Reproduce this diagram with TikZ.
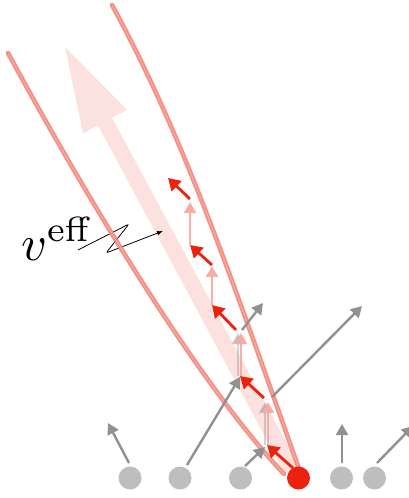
\documentclass[tikz,border=0pt]{standalone}
\usetikzlibrary{arrows.meta}
\definecolor{bigpink}{RGB}{252,226,223}
\definecolor{pencil}{RGB}{243,136,124}
\definecolor{hopred}{RGB}{236,34,14}
\definecolor{hoppink}{RGB}{246,170,160}
\definecolor{dotgray}{RGB}{190,190,190}
\definecolor{arrgray}{RGB}{145,145,145}
\tikzset{
  pencilline/.style={draw=pencil, line width=4.6pt, line cap=round, opacity=0.92},
  pencilgrain/.style={draw=white, line width=0.8pt, opacity=0.4, dash pattern=on 0.6pt off 1.5pt},
  grayarrow/.style={draw=arrgray, line width=2.4pt, -{Triangle[length=11pt,width=12pt]}},
  ghostarrow/.style={draw=arrgray, line width=2.4pt, opacity=0.4, -{Triangle[length=11pt,width=12pt]}},
  redarrow/.style={draw=hopred, line width=2.8pt, -{Triangle[length=12pt,width=14pt]}},
  pinkarrow/.style={draw=hoppink, line width=2.6pt, opacity=0.9, -{Triangle[length=11pt,width=12pt]}},
  dot/.style={circle, minimum size=23pt, inner sep=0pt},
  zig/.style={draw=black, line width=0.8pt, rounded corners=2.5pt, -{Latex[length=6pt,width=4.5pt]}}
}
\begin{document}
\begin{tikzpicture}[x=1pt,y=-1pt]
\useasboundingbox (0,0) rectangle (409,498);
\clip (0,0) rectangle (409,498);
% big effective-velocity arrow
\coordinate (S1) at (284.95,473.8);
\coordinate (B1) at (97.95,125.3);
\coordinate (H1) at (83,133.3);
\coordinate (T) at (65,47);
\coordinate (H2) at (127,109.7);
\coordinate (B2) at (112.05,117.7);
\coordinate (S2) at (299.05,466.2);
\fill[bigpink] (S1) -- (B1) -- (H1) -- (T) -- (H2) -- (B2) -- (S2) -- cycle;
% label and zigzag
\node[anchor=base west, inner sep=0pt, scale=5] (lbl) at (20,260) {$v^{\mathrm{eff}}$};
\coordinate (z0) at (78,250);
\coordinate (z1) at (129,224);
\coordinate (z2) at (106,253);
\coordinate (z3) at (163,231);
\draw[zig] (z0) -- (z1) -- (z2) -- (z3);
% pencil cone lines
\coordinate (L0) at (8,53);
\coordinate (LA) at (90,204);
\coordinate (LB) at (199,384);
\coordinate (L1) at (284,474);
\coordinate (R0) at (112,5);
\coordinate (RA) at (179,128);
\coordinate (RB) at (222,250);
\coordinate (R1) at (299,469);
\draw[pencilline] (L0) .. controls (LA) and (LB) .. (L1);
\draw[pencilline] (R0) .. controls (RA) and (RB) .. (R1);
\draw[pencilgrain, xshift=-1.4pt] (L0) .. controls (LA) and (LB) .. (L1);
\draw[pencilgrain, xshift=1.5pt, dash phase=0.9pt] (L0) .. controls (LA) and (LB) .. (L1);
\draw[pencilgrain, xshift=-1.4pt] (R0) .. controls (RA) and (RB) .. (R1);
\draw[pencilgrain, xshift=1.5pt, dash phase=0.9pt] (R0) .. controls (RA) and (RB) .. (R1);
% gray particle arrows
\coordinate (g1s) at (129,463); \coordinate (g1e) at (108,423);
\coordinate (g2s) at (187,465); \coordinate (g2e) at (240,377);
\coordinate (g3s) at (245,466); \coordinate (g3e) at (265,447);
\coordinate (g4s) at (342,463); \coordinate (g4e) at (342,424);
\coordinate (g5s) at (377,463); \coordinate (g5e) at (413,426);
\coordinate (g6s) at (272,397); \coordinate (g6e) at (362,306);
\coordinate (g7s) at (242,330); \coordinate (g7e) at (263,303);
\draw[grayarrow] (g1s) -- (g1e);
\draw[grayarrow] (g2s) -- (g2e);
\draw[grayarrow] (g3s) -- (g3e);
\draw[grayarrow] (g4s) -- (g4e);
\draw[grayarrow] (g5s) -- (g5e);
\draw[grayarrow] (g6s) -- (g6e);
\draw[grayarrow] (g7s) -- (g7e);
% hop chain
\coordinate (r0) at (293,468); \coordinate (r1) at (267,445);
\coordinate (p1) at (267,402);
\coordinate (r2) at (264,398); \coordinate (r3) at (240,376);
\coordinate (p3) at (240,333);
\coordinate (r4) at (236,330); \coordinate (r5) at (212,305);
\coordinate (p5) at (212,266);
\coordinate (r6) at (212,265); \coordinate (r7) at (190,245);
\coordinate (p7) at (190,202);
\coordinate (r8) at (190,199); \coordinate (r9) at (168,178);
\draw[ghostarrow] ([xshift=-2pt]r1) -- ([xshift=-2pt]p1);
\draw[ghostarrow] ([xshift=-2pt]r3) -- ([xshift=-2pt]p3);
\draw[pinkarrow] ([xshift=1pt]r1) -- ([xshift=1pt]p1);
\draw[pinkarrow] ([xshift=1pt]r3) -- ([xshift=1pt]p3);
\draw[pinkarrow] (r5) -- (p5);
\draw[pinkarrow] (r7) -- (p7);
\draw[redarrow] (r0) -- (r1);
\draw[redarrow] (r2) -- (r3);
\draw[redarrow] (r4) -- (r5);
\draw[redarrow] (r6) -- (r7);
\draw[redarrow] (r8) -- (r9);
% particles
\node[dot, fill=dotgray] (d1) at (130,478) {};
\node[dot, fill=dotgray] (d2) at (180,478) {};
\node[dot, fill=dotgray] (d3) at (240.5,478) {};
\node[dot, fill=hopred] (d4) at (298.5,478) {};
\node[dot, fill=dotgray] (d5) at (341.5,478) {};
\node[dot, fill=dotgray] (d6) at (374.5,478) {};
\end{tikzpicture}
\end{document}
